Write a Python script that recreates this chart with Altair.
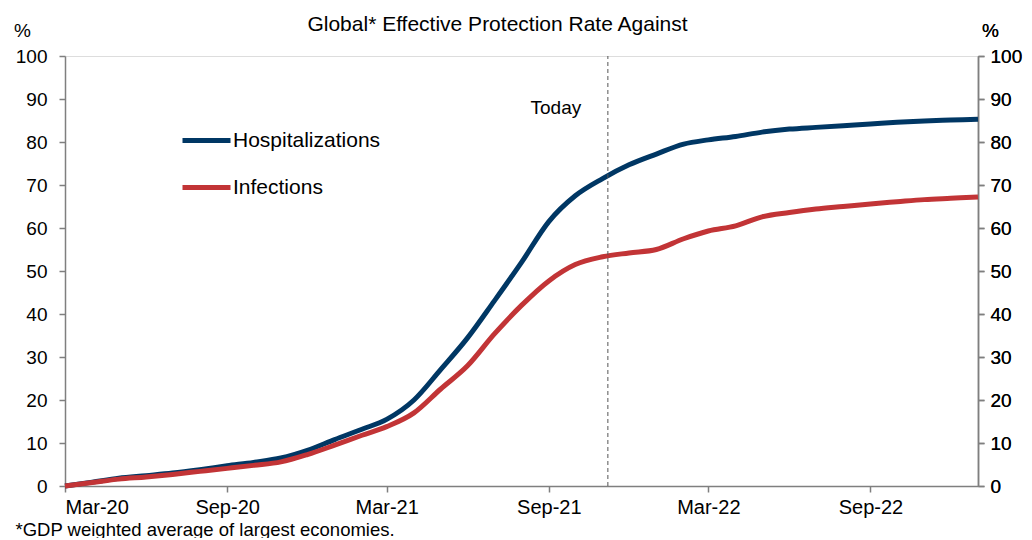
import altair as alt
import pandas as pd

FONT = "Liberation Sans"
NAVY = "#003764"
RED = "#C23436"
GRAY = "#7f7f7f"

dates = [
    "2020-03-01", "2020-04-01", "2020-05-01", "2020-06-01", "2020-07-01", "2020-08-01",
    "2020-09-01", "2020-10-01", "2020-11-01", "2020-12-01", "2021-01-01", "2021-02-01",
    "2021-03-01", "2021-04-01", "2021-05-01", "2021-06-01", "2021-07-01", "2021-08-01",
    "2021-09-01", "2021-10-01", "2021-11-01", "2021-12-01", "2022-01-01", "2022-02-01",
    "2022-03-01", "2022-04-01", "2022-05-01", "2022-06-01", "2022-07-01", "2022-08-01",
    "2022-09-01", "2022-10-01", "2022-11-01", "2022-12-01", "2023-01-01",
]
hospitalizations = [
    0.0, 0.9, 1.8, 2.4, 3.0, 3.8,
    4.7, 5.5, 6.5, 8.3, 10.8, 13.2,
    15.5, 20.0, 27.0, 34.5, 43.0, 52.0,
    61.5, 67.5, 71.5, 74.7, 77.2, 79.5,
    80.5, 81.3, 82.3, 83.0, 83.4, 83.8,
    84.2, 84.6, 84.9, 85.1, 85.3,
]
infections = [
    0.0, 0.8, 1.6, 2.1, 2.7, 3.4,
    4.1, 4.8, 5.6, 7.3, 9.5, 11.8,
    13.8, 17.0, 22.5, 28.0, 35.3, 42.0,
    47.7, 51.5, 53.3, 54.2, 55.0, 57.5,
    59.3, 60.5, 62.6, 63.6, 64.4, 65.0,
    65.6, 66.1, 66.6, 66.9, 67.2,
]
series_names = ["Hospitalizations", "Infections"]

today_date = "2021-11-07T00:00:00"
today_range = [0, 100]
today_label = "Today"
today_label_date = "2021-09-09T00:00:00"
today_label_value = 88

x_tick_dates = [(2020, 3), (2020, 9), (2021, 3), (2021, 9), (2022, 3), (2022, 9)]
y_ticks = list(range(0, 101, 10))
title_text = "Global* Effective Protection Rate Against"
footnote = "*GDP weighted average of largest economies."

rows = []
for name, vals in zip(series_names, [hospitalizations, infections]):
    for d, v in zip(dates, vals):
        rows.append({"date": d + "T00:00:00", "series": name, "value": v})
df = pd.DataFrame(rows)

rule_df = pd.DataFrame({"date": [today_date], "lo": [today_range[0]], "hi": [today_range[1]]})
label_df = pd.DataFrame({"date": [today_label_date], "value": [today_label_value], "text": [today_label]})

x_scale = alt.Scale(domain=[alt.DateTime(year=2020, month=3, date=1),
                            alt.DateTime(year=2023, month=1, date=1)])
y_scale = alt.Scale(domain=[0, 100], nice=False)

x_axis = alt.Axis(
    values=[alt.DateTime(year=y, month=m, date=1) for y, m in x_tick_dates],
    format="%b-%y", grid=False, tickSize=6, labelPadding=5,
    labelFontSize=20, labelFont=FONT, labelColor="black",
    domainColor=GRAY, tickColor=GRAY, domainWidth=1.5, tickWidth=1.5,
    title=footnote, titleX=-50, titleY=43, titleAlign="left", titleAnchor="start",
    titleBaseline="middle", titleFontSize=18.5, titleFont=FONT, titleFontWeight="normal",
    titleColor="black",
)

def y_axis(orient):
    return alt.Axis(
        orient=orient, values=y_ticks, grid=False, tickSize=6,
        labelPadding=12 if orient == "left" else 6,
        labelFontSize=19, labelFont=FONT, labelColor="black",
        domainColor=GRAY, tickColor=GRAY, domainWidth=1.5, tickWidth=1.5,
        title="%", titleAngle=0, titleX=-43 if orient == "left" else 12, titleY=-26,
        titleAlign="center", titleBaseline="middle", titleFontSize=19, titleFont=FONT,
        titleFontWeight="normal", titleColor="black",
    )

lines = alt.Chart(df).mark_line(strokeWidth=5, interpolate="monotone").encode(
    x=alt.X("date:T", scale=x_scale, axis=x_axis),
    y=alt.Y("value:Q", scale=y_scale, axis=y_axis("left")),
    color=alt.Color(
        "series:N",
        scale=alt.Scale(domain=series_names, range=[NAVY, RED]),
        legend=alt.Legend(
            title=None, orient="none", legendX=115, legendY=58, symbolType="stroke",
            symbolSize=2304, symbolStrokeWidth=5, labelFontSize=21, labelFont=FONT,
            labelColor="black", rowPadding=10, padding=0, labelOffset=0,
        ),
    ),
)

rule = alt.Chart(rule_df).mark_rule(color="#555555", strokeDash=[4, 3], strokeWidth=1).encode(
    x=alt.X("date:T", scale=x_scale, axis=x_axis),
    y=alt.Y("lo:Q", scale=y_scale, axis=y_axis("right")),
    y2="hi:Q",
)

label = alt.Chart(label_df).mark_text(font=FONT, fontSize=19, color="black").encode(
    x=alt.X("date:T", scale=x_scale, axis=x_axis),
    y=alt.Y("value:Q", scale=y_scale, axis=y_axis("right")),
    text="text:N",
)

chart = alt.layer(lines, rule, label).resolve_axis(y="independent").properties(
    width=913, height=430,
    autosize=alt.AutoSizeParams(type="none"),
    padding={"left": 57, "top": 48, "right": 46, "bottom": 52},
    title=alt.TitleParams(title_text, fontSize=21, font=FONT, fontWeight="normal",
                          anchor="middle", dx=-24, dy=18, color="black"),
).configure_view(stroke=None).configure(background="white")

chart.save("out.html", embed_options={"renderer": "svg", "actions": False})
